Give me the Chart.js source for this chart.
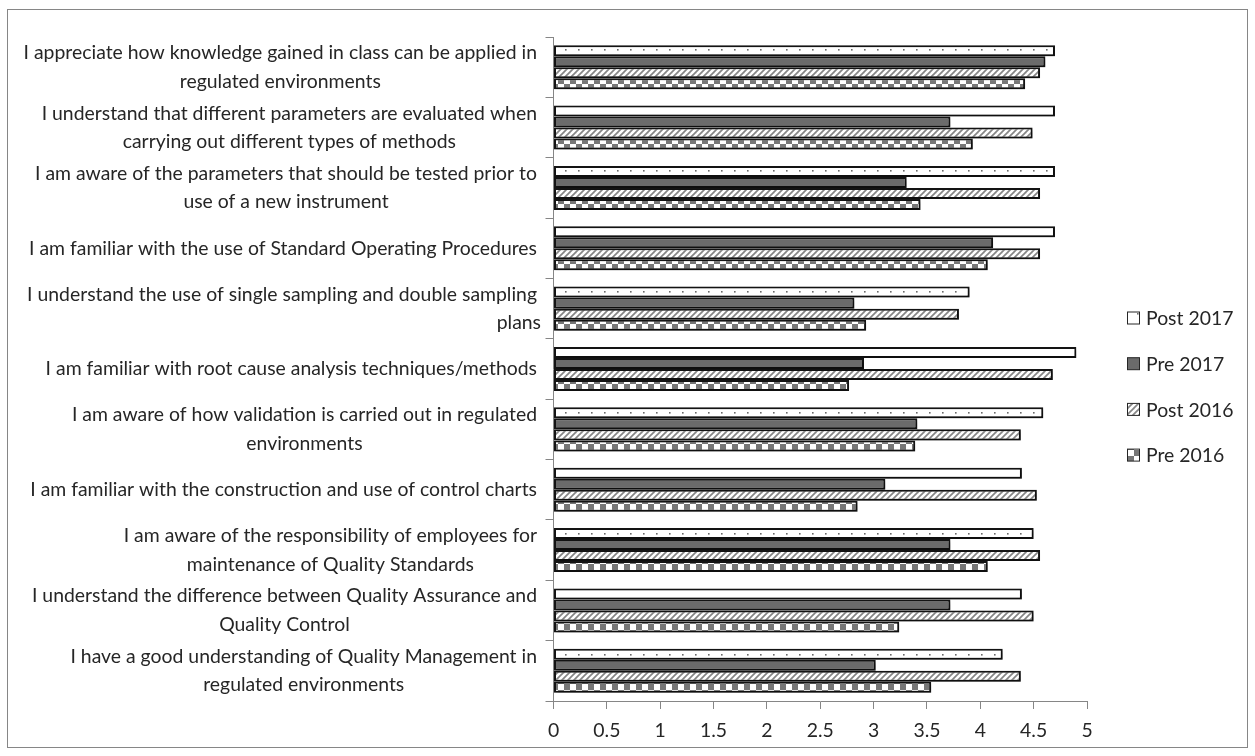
<!DOCTYPE html>
<html>
<head>
<meta charset="utf-8">
<script src="https://cdn.jsdelivr.net/npm/chart.js@4.4.1/dist/chart.umd.min.js"></script>
<style>
  html, body { margin: 0; padding: 0; background: #ffffff; }
  #wrap { width: 1255px; height: 756px; position: relative; }
</style>
</head>
<body>
<div id="wrap"><canvas id="c" width="1255" height="756"></canvas></div>
<script>
// ---------------- DATA ----------------
const categories = [
  ["I appreciate how knowledge gained in class can be applied in", "regulated environments"],
  ["I understand that different parameters are evaluated when", "carrying out different types of methods"],
  ["I am aware of the parameters that should be tested prior to", "use of a new instrument"],
  ["I am familiar with the use of Standard Operating Procedures"],
  ["I understand the use of single sampling and double sampling", "plans"],
  ["I am familiar with root cause analysis techniques/methods"],
  ["I am aware of how validation is carried out in regulated", "environments"],
  ["I am familiar with the construction and use of control charts"],
  ["I am aware of the responsibility of employees for", "maintenance of Quality Standards"],
  ["I understand the difference between Quality Assurance and", "Quality Control"],
  ["I have a good understanding of Quality Management in", "regulated environments"]
];
const seriesNames = ["Post 2017", "Pre 2017", "Post 2016", "Pre 2016"];
const post2017 = [4.70, 4.70, 4.70, 4.70, 3.90, 4.90, 4.59, 4.39, 4.50, 4.39, 4.21];
const pre2017  = [4.61, 3.72, 3.31, 4.12, 2.82, 2.91, 3.41, 3.11, 3.72, 3.72, 3.02];
const post2016 = [4.56, 4.49, 4.56, 4.56, 3.80, 4.68, 4.38, 4.53, 4.56, 4.50, 4.38];
const pre2016  = [4.42, 3.93, 3.44, 4.07, 2.93, 2.77, 3.39, 2.85, 4.07, 3.24, 3.54];
const xTickLabels = ["0", "0.5", "1", "1.5", "2", "2.5", "3", "3.5", "4", "4.5", "5"];
const xMin = 0, xMax = 5, xStep = 0.5;

// ---------------- STYLE HELPERS ----------------
const FONT_FAMILY = "Lato, 'Open Sans', sans-serif";
const TEXT_COLOR = "#262626";
const AXIS_COLOR = "#868686";

function makePattern(w, h, draw) {
  const cv = document.createElement('canvas');
  cv.width = w; cv.height = h;
  const g = cv.getContext('2d');
  draw(g, w, h);
  return document.getElementById('c').getContext('2d').createPattern(cv, 'repeat');
}

function init() {
  const m = document.createElement('canvas').getContext('2d');
  m.font = "100px " + FONT_FAMILY;
  const wRef = m.measureText(categories[0][0]).width;
  const fontSize = Math.round(100 * 513 / wRef * 10) / 10;
  const font = fontSize + "px " + FONT_FAMILY;
  const lineH = 28.5;

  const dotPat = makePattern(13, 11, (g, w, h) => {
    g.fillStyle = '#fff'; g.fillRect(0, 0, w, h);
    g.fillStyle = '#6a6a6a'; g.fillRect(6, 5, 1.6, 1.6);
  });
  const solid = '#6b6b6b';
  const stripePat = makePattern(6, 6, (g, w, h) => {
    g.fillStyle = '#fff'; g.fillRect(0, 0, w, h);
    g.strokeStyle = '#858585'; g.lineWidth = 1.7;
    for (let k = -1; k <= 1; k++) {
      g.beginPath(); g.moveTo(k * w - 1, h + 1); g.lineTo(k * w + w + 1, -1); g.stroke();
    }
  });
  const checkPat = makePattern(12, 12, (g, w, h) => {
    g.fillStyle = '#fff'; g.fillRect(0, 0, w, h);
    g.fillStyle = '#777777';
    g.fillRect(0, 0, 6, 6); g.fillRect(6, 6, 6, 6);
  });
  const fills = [dotPat, solid, stripePat, checkPat];
  const seriesData = [post2017, pre2017, post2016, pre2016];

  const frame = {
    id: 'frame',
    beforeDraw(chart) {
      const ctx = chart.ctx;
      ctx.save();
      ctx.fillStyle = '#fff';
      ctx.fillRect(0, 0, chart.width, chart.height);
      ctx.strokeStyle = AXIS_COLOR; ctx.lineWidth = 1;
      ctx.strokeRect(7.5, 9.5, 1240, 738);
      ctx.restore();
    }
  };

  const shadow = {
    id: 'shadow',
    beforeDatasetsDraw(chart) {
      const ctx = chart.ctx;
      ctx.save();
      ctx.shadowColor = 'rgba(0,0,0,0.4)';
      ctx.shadowBlur = 4;
      ctx.shadowOffsetX = 2;
      ctx.shadowOffsetY = 2;
    },
    afterDatasetsDraw(chart) { chart.ctx.restore(); }
  };

  const catLabels = {
    id: 'catLabels',
    afterDraw(chart) {
      const ctx = chart.ctx;
      const ys = chart.scales.y;
      const rightEdge = chart.chartArea.left - 16.5;
      ctx.save();
      ctx.font = font;
      ctx.fillStyle = TEXT_COLOR;
      ctx.textBaseline = 'middle';
      categories.forEach((lines, i) => {
        const yc = ys.getPixelForValue(i);
        const widths = lines.map(l => ctx.measureText(l).width);
        const blockW = Math.max(...widths);
        const cx = rightEdge - blockW / 2;
        lines.forEach((l, j) => {
          const y = yc + (j - (lines.length - 1) / 2) * lineH;
          if (i === 4 && j === 1) {
            ctx.textAlign = 'right';
            ctx.fillText(l, rightEdge + 4, y);
          } else {
            ctx.textAlign = 'center';
            ctx.fillText(l, cx, y);
          }
        });
      });
      ctx.restore();
    }
  };

  const legendPlugin = {
    id: 'customLegend',
    afterDraw(chart) {
      const ctx = chart.ctx;
      ctx.save();
      ctx.font = font;
      ctx.textBaseline = 'middle';
      ctx.textAlign = 'left';
      chart.data.datasets.forEach((ds, i) => {
        const y = 318 + i * 45.7;
        const bx = 1127.5, bs = 12;
        ctx.fillStyle = ds.backgroundColor;
        ctx.fillRect(bx, y - bs / 2, bs, bs);
        ctx.strokeStyle = '#262626'; ctx.lineWidth = 1;
        ctx.strokeRect(bx, y - bs / 2, bs, bs);
        ctx.fillStyle = TEXT_COLOR;
        ctx.fillText(ds.label, 1146, y + 1);
      });
      ctx.restore();
    }
  };

  new Chart(document.getElementById('c'), {
    type: 'bar',
    data: {
      labels: categories.map(c => c.join(' ')),
      datasets: seriesNames.map((name, i) => ({
        label: name,
        data: seriesData[i],
        backgroundColor: fills[i],
        borderColor: '#141414',
        borderWidth: 2,
        borderSkipped: false,
        barPercentage: 1.0,
        categoryPercentage: 0.73
      }))
    },
    options: {
      indexAxis: 'y',
      responsive: false,
      devicePixelRatio: 1,
      animation: false,
      layout: { padding: { top: 37, left: 545.5, right: 168, bottom: 0 } },
      plugins: {
        legend: { display: false },
        tooltip: { enabled: false }
      },
      scales: {
        x: {
          type: 'linear',
          min: xMin, max: xMax,
          afterFit(s) { s.height = 55; },
          ticks: {
            stepSize: xStep, color: TEXT_COLOR,
            font: { family: FONT_FAMILY, size: fontSize }, padding: 10,
            callback: (v, idx) => xTickLabels[idx]
          },
          grid: { drawOnChartArea: false, drawTicks: true, tickLength: 8, color: AXIS_COLOR },
          border: { display: true, color: AXIS_COLOR, width: 1 }
        },
        y: {
          type: 'category',
          afterFit(s) { s.width = 8; },
          ticks: { display: false },
          grid: { offset: true, drawOnChartArea: false, drawTicks: true, tickLength: 8, color: AXIS_COLOR },
          border: { display: true, color: AXIS_COLOR, width: 1 }
        }
      }
    },
    plugins: [frame, shadow, catLabels, legendPlugin]
  });
}

if (document.fonts && document.fonts.load) {
  document.fonts.load("20px Lato").then(init, init);
} else { init(); }
</script>
</body>
</html>
